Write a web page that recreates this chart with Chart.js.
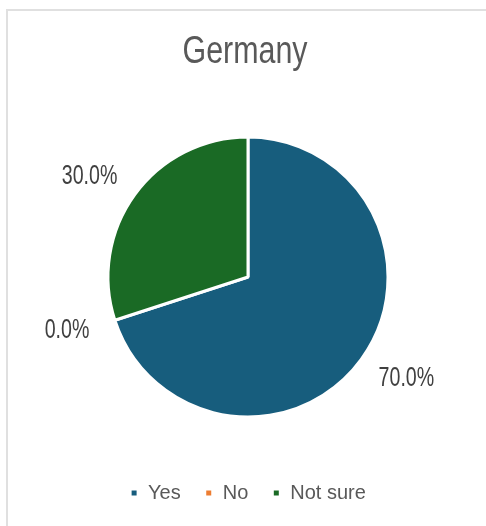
<!DOCTYPE html>
<html>
<head>
<meta charset="utf-8">
<script src="https://cdn.jsdelivr.net/npm/chart.js@4/dist/chart.umd.min.js"></script>
<style>
  html, body { margin: 0; padding: 0; background: #ffffff; }
  #wrap { position: relative; width: 486px; height: 526px; overflow: hidden; }
  #frame { position: absolute; left: 6px; top: 9px; right: -10px; bottom: -10px;
           border-left: 2px solid #e0e0e0; border-top: 2px solid #e0e0e0; }
  canvas { position: absolute; left: 0; top: 0; }
</style>
</head>
<body>
<div id="wrap">
  <div id="frame"></div>
  <canvas id="c" width="486" height="526"></canvas>
</div>
<script>
// Survey answers for Germany (share of respondents, %)
const categories = ['Yes', 'No', 'Not sure'];
const shares = [70.0, 0.0, 30.0];
const sliceColors = ['#175d7d', '#ed7d31', '#1a6a25'];
const chartTitle = 'Germany';

const FONT = "'Liberation Sans', Arial, sans-serif";

// Draws text squeezed horizontally to mimic a narrow typeface
function narrowText(ctx, text, x, y, size, squeeze, color) {
  ctx.save();
  ctx.font = size + 'px ' + FONT;
  ctx.fillStyle = color;
  ctx.textAlign = 'center';
  ctx.textBaseline = 'middle';
  ctx.translate(x, y);
  ctx.scale(squeeze, 1);
  ctx.fillText(text, 0, 0);
  ctx.restore();
}

// Chart title in a narrow face, centred above the pie
const narrowTitle = {
  id: 'narrowTitle',
  afterDraw(chart) {
    narrowText(chart.ctx, chartTitle, 245, 53, 38, 0.8, '#595959');
  }
};

// Percentage labels placed just outside each slice
const outsideLabels = {
  id: 'outsideLabels',
  afterDatasetsDraw(chart) {
    const ctx = chart.ctx;
    const meta = chart.getDatasetMeta(0);
    const values = chart.data.datasets[0].data;
    const size = 28, squeeze = 0.7, gapX = 28, gapY = 22, h = 20;
    meta.data.forEach((arc, i) => {
      const p = arc.getProps(['x', 'y', 'startAngle', 'endAngle', 'outerRadius'], true);
      const text = values[i].toFixed(1) + '%';
      ctx.save();
      ctx.font = size + 'px ' + FONT;
      const w = ctx.measureText(text).width * squeeze;
      ctx.restore();
      const mid = (p.startAngle + p.endAngle) / 2;
      const dx = Math.cos(mid), dy = Math.sin(mid);
      const x = p.x + dx * (p.outerRadius + gapX) + dx * w / 2;
      const y = p.y + dy * (p.outerRadius + gapY) + dy * h / 2;
      narrowText(ctx, text, x, y, size, squeeze, '#404040');
    });
  }
};

new Chart(document.getElementById('c'), {
  type: 'pie',
  data: {
    labels: categories,
    datasets: [{
      data: shares,
      backgroundColor: sliceColors,
      borderColor: '#ffffff',
      borderWidth: 3,
      radius: 140
    }]
  },
  options: {
    responsive: false,
    animation: false,
    layout: { padding: { left: 10, right: 0, top: 95, bottom: 13 } },
    plugins: {
      title: { display: false },
      legend: {
        position: 'bottom',
        labels: {
          color: '#595959',
          font: { family: FONT, size: 20 },
          boxWidth: 8,
          boxHeight: 8,
          padding: 24
        }
      },
      tooltip: { enabled: false }
    }
  },
  plugins: [outsideLabels, narrowTitle]
});
</script>
</body>
</html>
